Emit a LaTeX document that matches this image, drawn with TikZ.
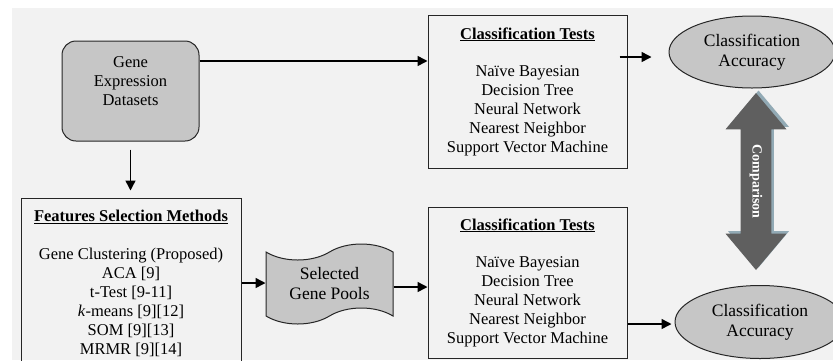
\documentclass[tikz,border=0pt]{standalone}
\usepackage{fontspec}
\setmainfont{Liberation Serif}
\usetikzlibrary{shapes,shapes.symbols,shapes.arrows,arrows.meta,positioning,calc,shadows}
\definecolor{paper}{HTML}{F2F2F2}
\definecolor{boxgray}{HTML}{C6C6C6}
\definecolor{edgegray}{HTML}{262626}
\definecolor{arrowgray}{HTML}{5F5F5F}
\definecolor{shadowblue}{HTML}{92AAB5}

\tikzset{
  listbox/.style={draw=edgegray, line width=1pt, align=center, font=\fontsize{16.5}{19}\selectfont},
  accnode/.style={ellipse, draw=edgegray, line width=1pt, fill=boxgray, inner sep=0pt, align=center, font=\fontsize{17.5}{20.5}\selectfont},
  arr/.style={-{Triangle[length=10pt,width=10pt]}, line width=1.5pt},
}

\begin{document}
\begin{tikzpicture}[x=1pt,y=1pt]
\clip (0,0) rectangle (833,-360);
\fill[paper] (12,-8) rectangle (833,-360);

\node[draw=edgegray, line width=1pt, fill=boxgray, rounded corners=14pt, minimum width=137pt, minimum height=100pt, align=center, font=\fontsize{16.5}{19}\selectfont] (genes) at (130.5,-91) {Gene\\Expression\\Datasets\\\mbox{}};

\node[listbox, minimum width=199pt, minimum height=153pt] (tests1) at (527.5,-91.5) {\underline{\textbf{Classification Tests}}\\[18pt]Naïve Bayesian\\Decision Tree\\Neural Network\\Nearest Neighbor\\Support Vector Machine};
\node[listbox, minimum width=199pt, minimum height=151pt] (tests2) at (527.5,-282.5) {\underline{\textbf{Classification Tests}}\\[18pt]Naïve Bayesian\\Decision Tree\\Neural Network\\Nearest Neighbor\\Support Vector Machine};

\node[listbox, minimum width=220pt, minimum height=170pt] (feat) at (131,-283) {\underline{\textbf{Features Selection Methods}}\\[19pt]Gene Clustering (Proposed)\\ACA [9]\\t-Test [9-11]\\\textit{k}-means [9][12]\\SOM [9][13]\\MRMR [9][14]};

\node[tape, draw=edgegray, line width=1pt, fill=boxgray, minimum width=127pt, minimum height=80pt, tape bend height=16pt, inner sep=0pt, align=center, font=\fontsize{17.5}{20}\selectfont] (pools) at (329.5,-284) {Selected\\Gene Pools};

\node[accnode, minimum width=166pt, minimum height=72pt] (acc1) at (752,-52) {Classification\\Accuracy};
\node[accnode, minimum width=170pt, minimum height=73pt] (acc2) at (760,-322) {Classification\\Accuracy};

\node[double arrow, rotate=-90, fill=arrowgray, text=white, font=\fontsize{14}{16}\selectfont\bfseries, minimum height=177pt, minimum width=61pt, double arrow tip angle=80, double arrow head extend=14.5pt, inner xsep=0pt, inner ysep=8pt, general shadow={fill=shadowblue, shadow xshift=2.5pt, shadow yshift=2.5pt}] (cmp) at (756,-181.5) {Comparison};

\draw[arr] ([yshift=30pt]genes.east) -- ([yshift=30pt]genes.east -| tests1.west);
\draw[arr, shorten >=9pt] ([xshift=-8pt,yshift=34.5pt]tests1.east) -- ([xshift=-8pt,yshift=34.5pt]tests1.east -| acc1.west);
\draw[arr, shorten <=8pt, shorten >=7pt] (genes.south) -- (genes.south |- feat.north);
\draw[arr] (feat.east) -- (feat.east -| pools.west);
\draw[arr] ([yshift=-3pt]pools.east) -- ([yshift=-3pt]pools.east -| tests2.west);
\draw[arr, shorten >=3pt] ([yshift=-41.5pt]tests2.east) -- ([yshift=-41.5pt]tests2.east -| acc2.west);
\end{tikzpicture}
\end{document}
